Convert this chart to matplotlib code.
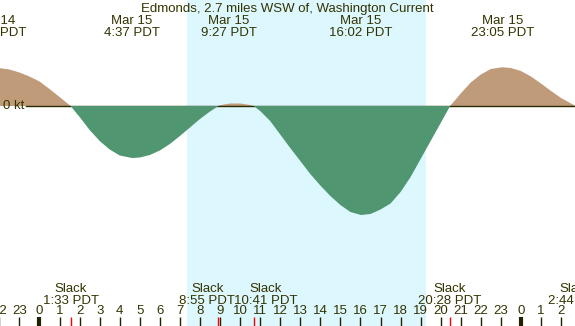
import numpy as np
import matplotlib
matplotlib.use('Agg')
import matplotlib.pyplot as plt
import matplotlib.transforms as mtransforms

plt.rcParams['font.family'] = ['Liberation Sans', 'DejaVu Sans']

title = 'Edmonds, 2.7 miles WSW of, Washington Current'

# current speed (kt), hours from Mar 15 00:00 PDT
hours = [-2.2, -2.0, -1.5, -1.0, -0.5, 0.0, 0.5, 1.0, 1.55,
         2.0, 2.5, 3.0, 3.5, 4.0, 4.62, 5.0, 5.5, 6.0, 6.5, 7.0, 7.5, 8.0, 8.5, 8.92,
         9.0, 9.5, 10.0, 10.5, 10.68,
         11.0, 11.5, 12.0, 12.5, 13.0, 13.5, 14.0, 14.5, 15.0, 15.5, 16.03,
         16.5, 17.0, 17.5, 18.0, 18.5, 19.0, 19.5, 20.0, 20.47,
         21.0, 21.5, 22.0, 22.5, 23.08, 23.5, 24.0, 24.5, 25.0, 25.5, 26.0, 26.5, 26.73]
speed = [0.76, 0.757, 0.73, 0.67, 0.59, 0.49, 0.34, 0.18, 0.0,
         -0.22, -0.48, -0.70, -0.87, -0.99, -1.04, -1.03, -0.98, -0.89, -0.76, -0.60, -0.43, -0.26, -0.11, 0.0,
         0.015, 0.05, 0.05, 0.02, 0.0,
         -0.10, -0.30, -0.57, -0.84, -1.10, -1.36, -1.59, -1.80, -1.98, -2.12, -2.18,
         -2.16, -2.07, -1.95, -1.72, -1.42, -1.06, -0.70, -0.34, 0.0,
         0.25, 0.47, 0.63, 0.74, 0.775, 0.76, 0.70, 0.59, 0.45, 0.30, 0.16, 0.05, 0.0]

# max current events
max_times = [-2.25, 4.617, 9.45, 16.033, 23.083]
max_labels = [('Mar 14', '21:45 PDT'), ('Mar 15', '4:37 PDT'), ('Mar 15', '9:27 PDT'),
              ('Mar 15', '16:02 PDT'), ('Mar 15', '23:05 PDT')]

# slack events
slack_times = [1.55, 8.917, 10.683, 20.467, 26.733]
slack_labels = ['1:33 PDT', '8:55 PDT', '10:41 PDT', '20:28 PDT', '2:44 PDT']

sunrise = 7.35
sunset = 19.27

night_col = '#B0C4DE'
day_col = '#DDF7FF'
flood_col = '#BF9B7A'
ebb_col = '#509670'
txt_col = '#333300'
fs = 9.5

W, H = 575, 326
fig = plt.figure(figsize=(W/100, H/100), dpi=100)
ax = fig.add_axes([0, 0, 1, 1])
ax.set_facecolor(night_col)
ax.set_xlim(-1.969, 26.695)
ax.set_ylim(-220/50., 106/50.)
ax.axis('off')
ax.patch.set_visible(True)

ax.axvspan(sunrise, sunset, color=day_col, lw=0, zorder=0)

t = np.array(hours)
v = np.array(speed)
ax.fill_between(t, v, 0, where=v >= 0, interpolate=True, color=flood_col, lw=0, zorder=1)
ax.axhline(0, xmin=26/W, xmax=1, color='#2a2a00', lw=1.0, zorder=2)
ax.fill_between(t, v, 0, where=v <= 0, interpolate=True, color=ebb_col, lw=0, zorder=3)

ax.text(-1.969 + 24/20.06, 0, '0 kt', ha='right', va='center', fontsize=fs, color=txt_col)

tr = mtransforms.blended_transform_factory(ax.transData, fig.transFigure)
def fy(py):
    return 1 - py/H

ax.text(0.5, fy(11.7), title, transform=fig.transFigure, ha='center', va='baseline',
        fontsize=fs, color=txt_col)

for tm, (d, s) in zip(max_times, max_labels):
    ax.text(tm, fy(24), d, transform=tr, ha='center', va='baseline', fontsize=fs, color=txt_col)
    ax.text(tm, fy(36), s, transform=tr, ha='center', va='baseline', fontsize=fs, color=txt_col)

# slack labels nudged apart where they would collide (pixels)
nudge = [0, -11, 12, 0, 0]
for tm, s, dx in zip(slack_times, slack_labels, nudge):
    off = mtransforms.offset_copy(tr, fig=fig, x=dx, y=0, units='dots')
    ax.text(tm, fy(292), 'Slack', transform=off, ha='center', va='baseline', fontsize=fs, color=txt_col)
    ax.text(tm, fy(304.3), s, transform=off, ha='center', va='baseline', fontsize=fs, color=txt_col)

# hour ticks
for h in range(-2, 27):
    ax.text(h, fy(314.3), str(h % 24), transform=tr, ha='center', va='baseline',
            fontsize=fs, color=txt_col)
    lw = 3 if h % 24 == 0 else 1
    ax.plot([h, h], [fy(317), fy(326)], transform=tr, color='#222200', lw=lw,
            solid_capstyle='butt', zorder=4)

for tm in slack_times:
    ax.plot([tm, tm], [fy(317), fy(326)], transform=tr, color='red', lw=1,
            solid_capstyle='butt', zorder=5)

fig.savefig('out.png', dpi=100)
